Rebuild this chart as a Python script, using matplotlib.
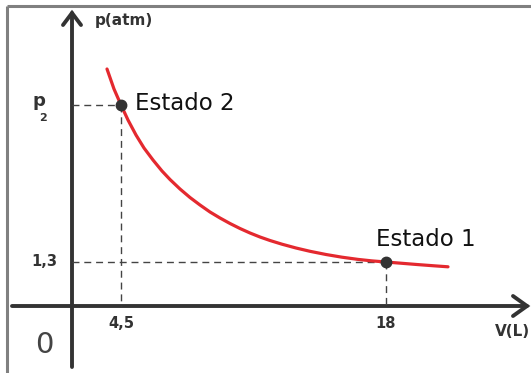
import matplotlib.pyplot as plt

# schematic diagram units (origin = where the axes cross, not to scale)
curve_v = [35, 42, 49, 56, 64, 72, 81, 90, 98, 108, 118, 128, 138, 148, 158,
           168, 178, 188, 198, 210, 224, 238, 254, 270, 286, 300, 314, 330,
           346, 362, 376]
curve_p = [237, 217, 201, 186, 171, 158, 146, 135, 126.5, 117, 108.5, 101,
           94, 88, 82.5, 77.5, 73, 69, 65.5, 61.8, 58, 54.7, 51.5, 48.8, 46.6,
           45.1, 44, 42.7, 41.4, 40.2, 39.2]

state_names = ["Estado 2", "Estado 1"]
state_v = [49, 314]
state_p = [201, 44]
v_labels = ["4,5", "18"]
p_labels = ["p", "1,3"]

axis_col = "#333333"
dash_col = "#444444"

fig = plt.figure(figsize=(5.31, 3.73), dpi=100)
ax = fig.add_axes([0, 0, 1, 1])
ax.set_xlim(-72, 459)
ax.set_ylim(-67, 306)
ax.axis("off")

# frame (only top and left edges visible)
ax.plot([-65, 459], [300, 300], color="#808080", lw=2.2, solid_capstyle="butt")
ax.plot([-65, -65], [300, -67], color="#808080", lw=2.2, solid_capstyle="butt")

# axes with open arrowheads
ax.plot([0, 0], [-61, 293], color=axis_col, lw=2.8, solid_capstyle="round")
ax.plot([-9, 0, 9], [281, 293, 281], color=axis_col, lw=2.8,
        solid_capstyle="round", solid_joinstyle="miter")
ax.plot([-60, 455], [0, 0], color=axis_col, lw=2.8, solid_capstyle="round")
ax.plot([441, 455, 441], [10, 0, -10], color=axis_col, lw=2.8,
        solid_capstyle="round", solid_joinstyle="miter")

# dashed guides
for v, p in zip(state_v, state_p):
    ax.plot([0, v], [p, p], color=dash_col, lw=1, dashes=(5, 3.5))
    ax.plot([v, v], [p, 0], color=dash_col, lw=1, dashes=(5, 3.5))

# isotherm
ax.plot(curve_v, curve_p, color="#e4292f", lw=2.3, solid_capstyle="round",
        solid_joinstyle="round", zorder=3)
ax.plot(state_v, state_p, "o", color="#333333", ms=7.5, zorder=4)

# state labels
ax.text(state_v[0] + 14, state_p[0] + 2, state_names[0], fontsize=16.5,
        va="center", ha="left", color="#111111")
ax.text(state_v[1] - 10, state_p[1] + 22, state_names[1], fontsize=16.5,
        va="center", ha="left", color="#111111")

# axis labels
bold = dict(fontweight="bold", color=axis_col)
ax.text(23, 286, "p(atm)", fontsize=11, va="center", ha="left", **bold)
ax.text(440, -25, "V(L)", fontsize=11, va="center", ha="center", **bold)
ax.text(-33, 205, p_labels[0], fontsize=13, va="center", ha="center", **bold)
ax.text(-29, 188, "2", fontsize=8, va="center", ha="center", **bold)
ax.text(-28, state_p[1], p_labels[1], fontsize=10.5, va="center", ha="center", **bold)
for v, lab in zip(state_v, v_labels):
    ax.text(v, -17, lab, fontsize=10.5, va="center", ha="center", **bold)
ax.text(-28, -39, "0", fontsize=21, va="center", ha="center", color="#444444")

fig.savefig("out.png", dpi=100)
